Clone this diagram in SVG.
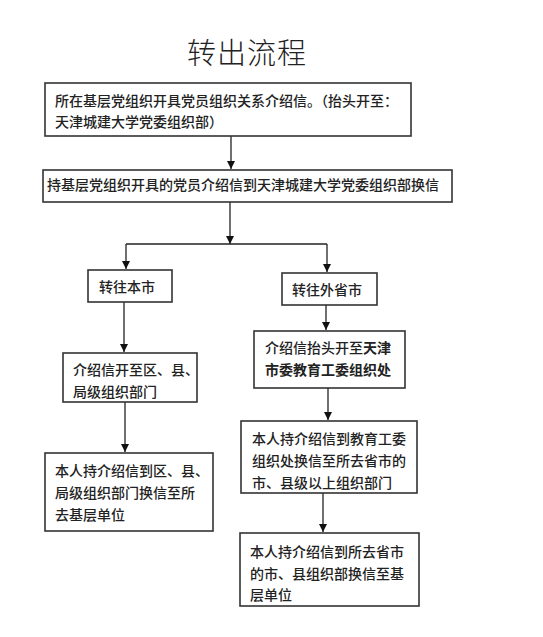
<svg xmlns="http://www.w3.org/2000/svg" width="543" height="637" viewBox="0 0 543 637">
<style>
.box{fill:#fff;stroke:#333;stroke-width:1.6}
.t{font-family:"Noto Sans CJK SC","Noto Sans",sans-serif;font-size:14px;fill:#222;font-weight:500}
.b{font-weight:700}
.title{font-family:"Noto Sans CJK SC","Noto Sans",sans-serif;font-size:29px;font-weight:300;fill:#222;letter-spacing:1px}
.c{fill:none;stroke:#222;stroke-width:1.3}
</style>
<defs>
<marker id="ah" viewBox="0 0 10 10" refX="10" refY="5" markerWidth="8" markerHeight="9" markerUnits="userSpaceOnUse" orient="auto">
<path d="M0,0 L10,5 L0,10 z" fill="#111"/>
</marker>
</defs>
<rect width="543" height="637" fill="#fff"/>
<text class="title" x="187" y="64">转出流程</text>
<g id="connectors">
<path class="c" d="M231,136 V169" marker-end="url(#ah)"/>
<path class="c" d="M230,202 V244" marker-end="url(#ah)"/>
<path class="c" d="M126,244 H327"/>
<path class="c" d="M126,244 V269" marker-end="url(#ah)"/>
<path class="c" d="M327,244 V272" marker-end="url(#ah)"/>
<path class="c" d="M124,302 V352" marker-end="url(#ah)"/>
<path class="c" d="M326,305 V330" marker-end="url(#ah)"/>
<path class="c" d="M125,402 V452" marker-end="url(#ah)"/>
<path class="c" d="M328,388 V420" marker-end="url(#ah)"/>
<path class="c" d="M323,493 V532" marker-end="url(#ah)"/>
</g>
<g id="n1">
<rect class="box" x="45" y="83" width="366" height="53"/>
<text class="t" x="55" y="106">所在基层党组织开具党员组织关系介绍信。（抬头开至：</text>
<text class="t" x="55" y="127">天津城建大学党委组织部）</text>
</g>
<g id="n2">
<rect class="box" x="43" y="170" width="409" height="32"/>
<text class="t" x="47" y="190" font-size="13.8">持基层党组织开具的党员介绍信到天津城建大学党委组织部换信</text>
</g>
<g id="n3">
<rect class="box" x="88" y="270" width="84" height="32"/>
<text class="t" x="99" y="292">转往本市</text>
</g>
<g id="n4">
<rect class="box" x="282" y="273" width="95" height="32"/>
<text class="t" x="292" y="295">转往外省市</text>
</g>
<g id="n5">
<rect class="box" x="63" y="353" width="134" height="49"/>
<text class="t" x="73" y="375">介绍信开至区、县、</text>
<text class="t" x="73" y="397">局级组织部门</text>
</g>
<g id="n6">
<rect class="box" x="254" y="331" width="151" height="57"/>
<text class="t" x="265" y="353">介绍信抬头开至<tspan class="b">天津</tspan></text>
<text class="t b" x="265" y="375">市委教育工委组织处</text>
</g>
<g id="n7">
<rect class="box" x="45" y="453" width="168" height="78"/>
<text class="t" x="55" y="476">本人持介绍信到区、县、</text>
<text class="t" x="55" y="498">局级组织部门换信至所</text>
<text class="t" x="55" y="520">去基层单位</text>
</g>
<g id="n8">
<rect class="box" x="241" y="421" width="176" height="72"/>
<text class="t" x="252" y="444">本人持介绍信到教育工委</text>
<text class="t" x="252" y="466">组织处换信至所去省市的</text>
<text class="t" x="252" y="488">市、县级以上组织部门</text>
</g>
<g id="n9">
<rect class="box" x="240" y="533" width="179" height="73"/>
<text class="t" x="250" y="557">本人持介绍信到所去省市</text>
<text class="t" x="250" y="579">的市、县组织部换信至基</text>
<text class="t" x="250" y="600">层单位</text>
</g>
</svg>
